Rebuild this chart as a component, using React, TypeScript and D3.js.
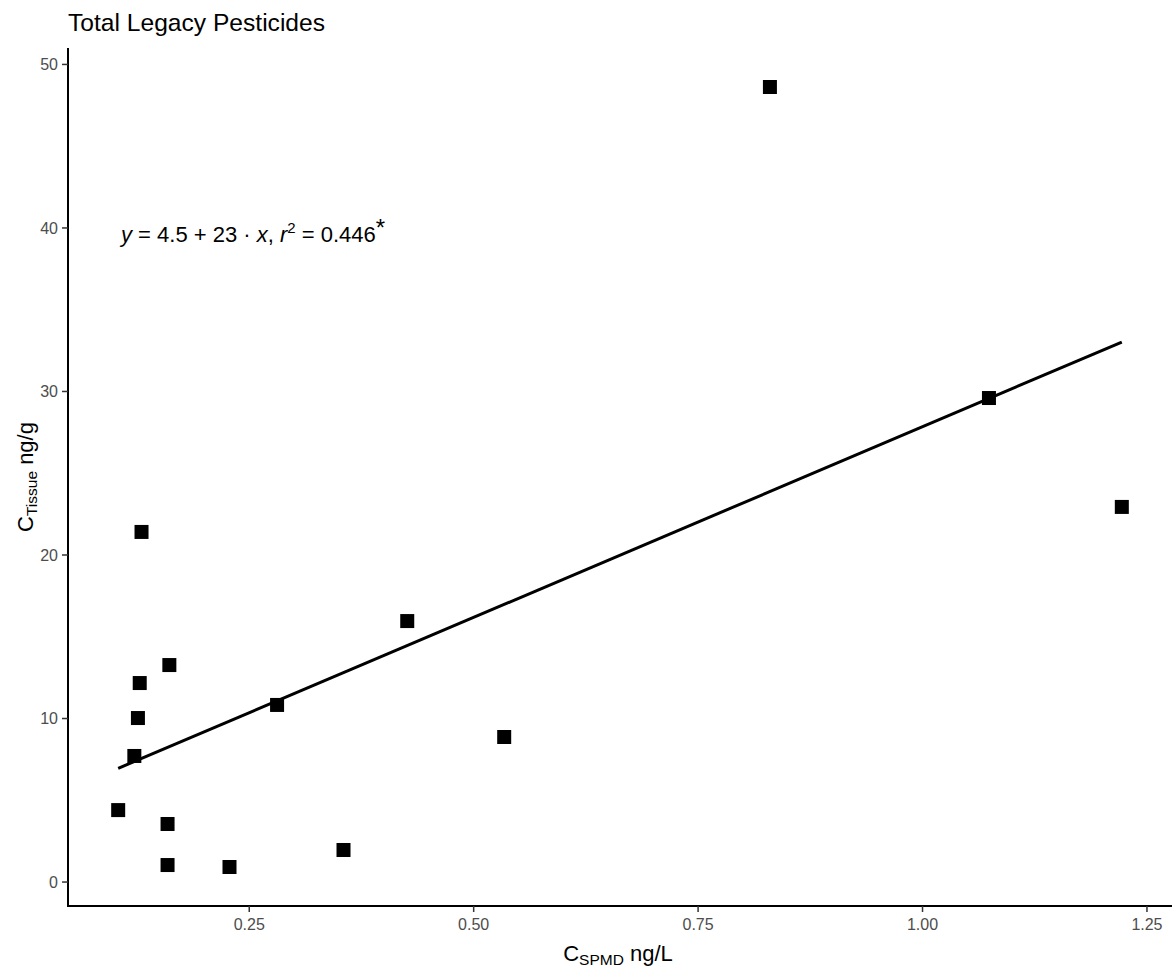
import React from "react";
import * as d3 from "d3";

const spmd = [0.104, 0.122, 0.126, 0.128, 0.130, 0.159, 0.159, 0.161, 0.228, 0.281, 0.355, 0.426, 0.534, 0.830, 1.074, 1.222];
const tissue = [4.40, 7.71, 10.03, 12.17, 21.41, 3.55, 1.04, 13.27, 0.92, 10.83, 1.96, 15.96, 8.87, 48.62, 29.60, 22.94];
const xTicks = [0.25, 0.5, 0.75, 1.0, 1.25];
const yTicks = [0, 10, 20, 30, 40, 50];
const title = "Total Legacy Pesticides";

const W = 1172, H = 968;
const left = 68, right = 1172, top = 48, bottom = 906;
const FONT = "'Liberation Sans', Arial, sans-serif";

export default function App() {
  const pts = spmd.map((x, i) => ({ x, y: tissue[i] }));
  const xExt = d3.extent(spmd) as [number, number];
  const yExt = d3.extent(tissue) as [number, number];
  const xr = xExt[1] - xExt[0], yr = yExt[1] - yExt[0];
  const x = d3.scaleLinear().domain([xExt[0] - 0.05 * xr, xExt[1] + 0.05 * xr]).range([left, right]);
  const y = d3.scaleLinear().domain([yExt[0] - 0.05 * yr, yExt[1] + 0.05 * yr]).range([bottom, top]);

  const mx = d3.mean(spmd)!, my = d3.mean(tissue)!;
  let sxy = 0, sxx = 0;
  pts.forEach(p => { sxy += (p.x - mx) * (p.y - my); sxx += (p.x - mx) ** 2; });
  const slope = sxy / sxx;
  const icpt = my - slope * mx;
  const line = d3.line<number>().x(v => x(v)).y(v => y(icpt + slope * v));
  const sz = 14;

  return (
    <svg width={W} height={H} style={{ display: "block", position: "absolute", left: 0, top: 0, background: "#fff" }} fontFamily={FONT}>
      <text x={68} y={31} fontSize={24.6} fill="#000">{title}</text>
      {/* axes */}
      <line x1={left} x2={left} y1={top} y2={bottom + 1} stroke="#000" strokeWidth={2} />
      <line x1={left - 1} x2={right} y1={bottom} y2={bottom} stroke="#000" strokeWidth={2} />
      {yTicks.map(t => (
        <g key={t}>
          <line x1={left - 6} x2={left} y1={y(t)} y2={y(t)} stroke="#333" strokeWidth={1.5} />
          <text x={left - 10} y={y(t)} dy="0.36em" textAnchor="end" fontSize={16} fill="#4D4D4D">{t}</text>
        </g>
      ))}
      {xTicks.map(t => (
        <g key={t}>
          <line x1={x(t)} x2={x(t)} y1={bottom} y2={bottom + 6} stroke="#333" strokeWidth={1.5} />
          <text x={x(t)} y={bottom + 24} textAnchor="middle" fontSize={16} fill="#4D4D4D">{t.toFixed(2)}</text>
        </g>
      ))}
      {/* axis titles */}
      <text x={618} y={961} textAnchor="middle" fontSize={22} fill="#000">
        C<tspan fontSize={15.5} dy={4}>SPMD</tspan><tspan dy={-4}> ng/L</tspan>
      </text>
      <text transform={`translate(33,${(top + bottom) / 2}) rotate(-90)`} textAnchor="middle" fontSize={22} fill="#000">
        C<tspan fontSize={15.5} dy={4}>Tissue</tspan><tspan dy={-4}> ng/g</tspan>
      </text>
      {/* regression */}
      <path d={line(xExt) || ""} fill="none" stroke="#000" strokeWidth={3} />
      {pts.map((p, i) => (
        <rect key={i} x={x(p.x) - sz / 2} y={y(p.y) - sz / 2} width={sz} height={sz} fill="#000" />
      ))}
      {/* equation */}
      <text x={121} y={242} fontSize={22} fill="#000">
        <tspan fontStyle="italic">y</tspan>
        <tspan> = 4.5 + 23 · </tspan>
        <tspan fontStyle="italic">x</tspan>
        <tspan>,  </tspan>
        <tspan fontStyle="italic">r</tspan>
        <tspan fontSize={15} dy={-9}>2</tspan>
        <tspan dy={9}> = 0.446</tspan>
        <tspan fontSize={24} dy={-6}>*</tspan>
      </text>
    </svg>
  );
}
